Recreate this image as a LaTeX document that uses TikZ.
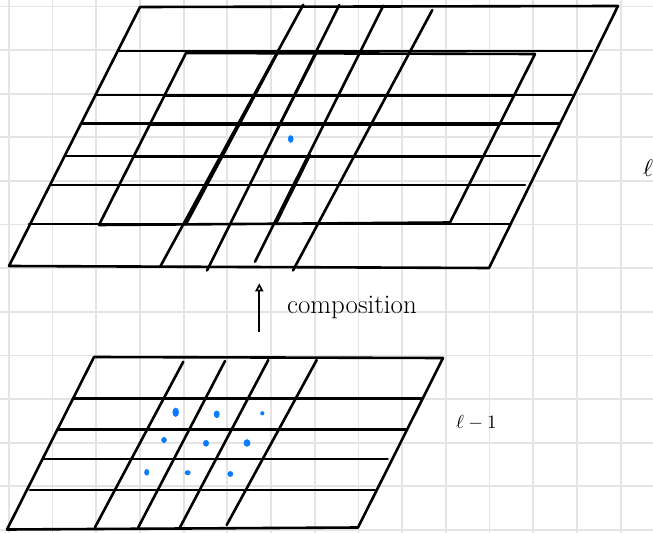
\documentclass[tikz,border=0pt]{standalone}
\definecolor{grisk}{RGB}{228, 228, 228}
\definecolor{azulk}{RGB}{10, 122, 255}
\usepackage{fontspec}
\usepackage{graphicx}
\usepackage{tikz}
\usetikzlibrary{arrows.meta}

\begin{document}
\begin{tikzpicture}[x=1bp,y=-1bp,
    trazo/.style={line width=2.6bp,line cap=round,line join=round},
    hoja/.style={grisk,line width=1.8bp}]
    \useasboundingbox (0,0) rectangle (653,533);
    \fill[white] (0,0) rectangle (653,533);
    \foreach \i in {0,...,14} \draw[hoja] (8.8+43.7*\i,0)--(8.8+43.7*\i,533);
    \foreach \j in {0,...,12} \draw[hoja] (0,6.6+43.6*\j)--(653,6.6+43.6*\j);
    \draw[trazo] (140,7)--(618,6)--(489,268)--(9,266)--cycle;
    \foreach \ya/\xa/\xb in {51/118/592, 95/95/572, 123.5/82.5/559, 156/66/540, 185/51/525, 224/29/510}
      \draw[trazo] (\xa,\ya)--(\xb,\ya);
    \foreach \xa/\ya/\xb/\yb in {303.3/4.7/160/267, 339.3/5/207/270.5, 383.3/5.7/255/261.7, 432.3/10/293/270.5}
      \draw[trazo] (\xa,\ya)--(\xb,\yb);
    \draw[trazo] (186,53)--(535,54)--(450,222.5)--(99,225)--cycle;
    \foreach \ya/\xa/\xb in {95.9/165/514, 124.4/150/500, 156.9/134.5/483}
      \draw[trazo] (\xa,\ya)--(\xb,\ya);
    \draw[trazo] (277.5,53)--(185.8,224.5);
    \draw[trazo] (316.2,53)--(274.5,135);
    \draw[trazo] (310,155)--(276.2,223);
    \fill[azulk] (290.7,139) ellipse [x radius=2.8bp, y radius=3.8bp];
    \draw[trazo] (94,357)--(443,358)--(358,527.5)--(7,529.5)--cycle;
    \foreach \ya/\xa/\xb in {398.3/74/421.7, 429.3/58.3/406.7, 459/43.3/387.7, 490/30/375}
      \draw[trazo] (\xa,\ya)--(\xb,\ya);
    \foreach \xa/\ya/\xb/\yb in {183.3/361.7/95/527.3, 225/361/138.3/527.3, 268.3/360/180/527.3, 316.7/360/226.7/525}
      \draw[trazo] (\xa,\ya)--(\xb,\yb);
    \foreach \px/\py/\rx/\ry in {175.7/412.3/3.3/4.6, 216.7/414.3/3/3.8, 262.3/413.3/2.1/2.1,
        164/440/2.8/3, 206/443.3/3/3.4, 247/443/3.4/3.8,
        146.7/472.3/2.5/3.3, 187.7/472.7/3/2.5, 230.3/474/2.9/2.9}
      \fill[azulk] (\px,\py) ellipse [x radius=\rx bp, y radius=\ry bp];
    \coordinate (flechaini) at (259.3,332);
    \coordinate (flechafin) at (259.3,283.3);
    \draw[line width=2.2bp,-{Triangle[open,length=8bp,width=8bp,line width=1.6bp]}] (flechaini)--(flechafin);
    \node[anchor=base west,inner sep=0pt,font=\fontsize{27}{32}\selectfont] (comp) at (287,313) {composition};
    \node[anchor=base west,inner sep=0pt] (capa) at (643,177) {\scalebox{2.4}{$\ell$}};
    \node[anchor=base west,inner sep=0pt] (capaprev) at (456,428) {\scalebox{1.9}{$\ell-1$}};
\end{tikzpicture}
\end{document}
